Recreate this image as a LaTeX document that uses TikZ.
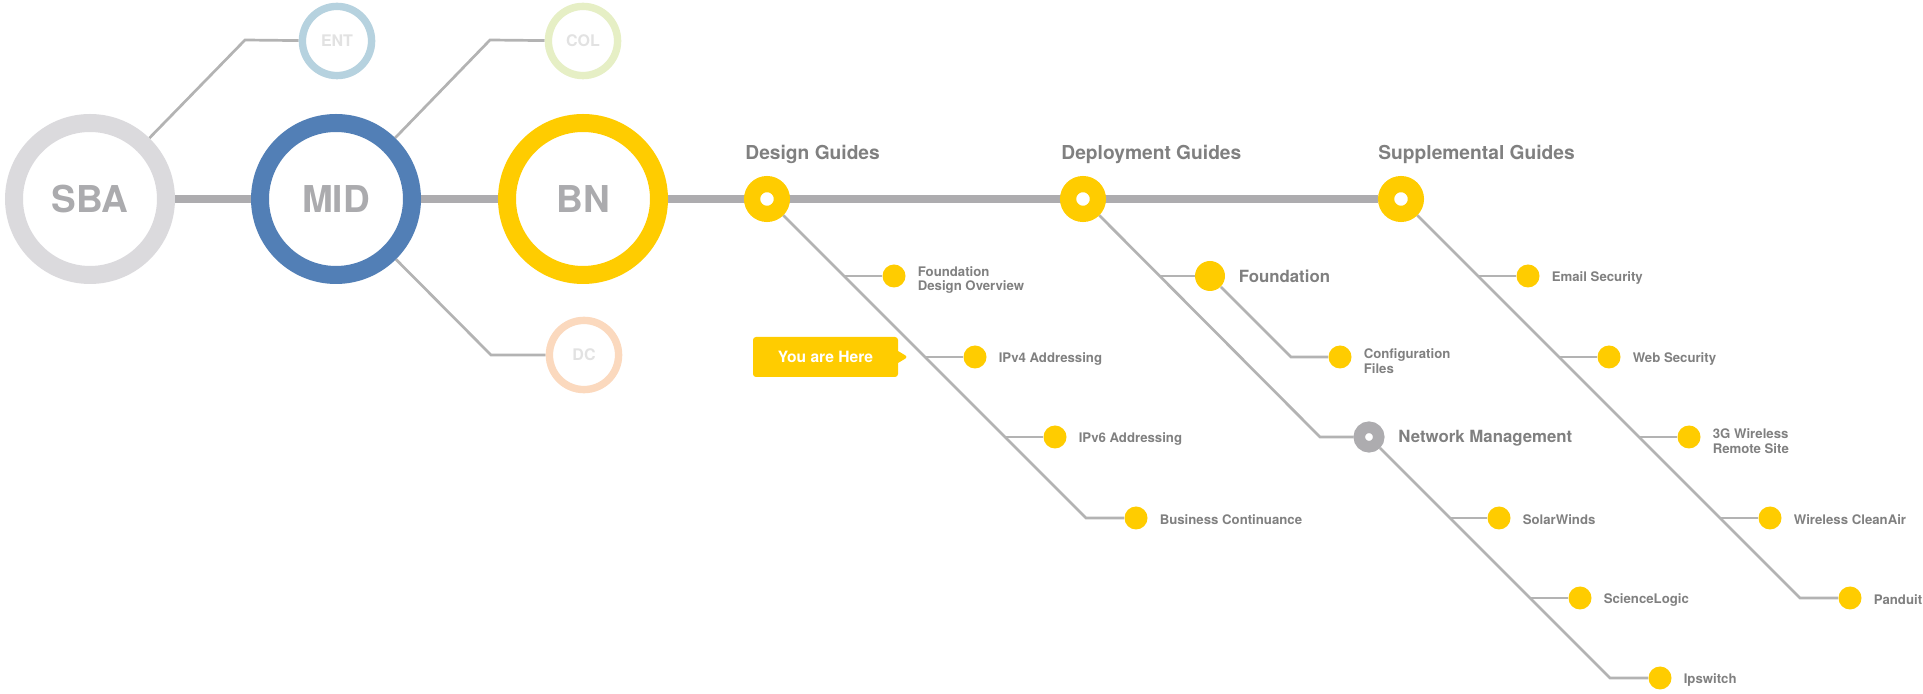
\documentclass[tikz,border=0pt]{standalone}
\usepackage{fontspec}
\setmainfont{TeX Gyre Heros}
\usepackage{tikz}
\usetikzlibrary{positioning,backgrounds,shapes.callouts}

\definecolor{gold}{HTML}{FFCC00}
\definecolor{railgray}{HTML}{ADACAF}
\definecolor{wiregray}{HTML}{B3B3B3}
\definecolor{bigtxt}{HTML}{ABABAE}
\definecolor{labtxt}{HTML}{808080}
\definecolor{paletxt}{HTML}{E2E2E2}
\definecolor{sbagray}{HTML}{DBDADD}
\definecolor{midblue}{HTML}{527FB6}
\definecolor{entblue}{HTML}{B6D2DF}
\definecolor{colgreen}{HTML}{E6EFC5}
\definecolor{dcpeach}{HTML}{FBD9BE}

\tikzset{
  ring/.style={circle, draw=#1, line width=9pt, fill=white, minimum size=76pt, inner sep=0pt,
    text=bigtxt, font=\bfseries\fontsize{18.5}{20}\selectfont},
  minor/.style={circle, draw=#1, line width=3.7pt, fill=white, minimum size=34.6pt, inner sep=0pt,
    text=paletxt, font=\bfseries\fontsize{8}{9}\selectfont},
  hub/.style={circle, draw=gold, line width=8.1pt, fill=white, minimum size=14.9pt, inner sep=0pt},
  subhub/.style={circle, draw=railgray, line width=5.75pt, fill=white, minimum size=9.75pt, inner sep=0pt},
  dot/.style={circle, fill=gold, minimum size=11.5pt, inner sep=0pt},
  bigdot/.style={circle, fill=gold, minimum size=15pt, inner sep=0pt},
  head/.style={text=labtxt, inner sep=0pt, anchor=base west, font=\bfseries\fontsize{9.6}{11}\selectfont},
  lbl/.style={text=labtxt, inner sep=0pt, align=left, yshift=-0.8pt, font=\bfseries\fontsize{6.6}{7.4}\selectfont},
  lbltwo/.style={lbl, yshift=-1.2pt},
  sublbl/.style={text=labtxt, inner sep=0pt, font=\bfseries\fontsize{8.4}{10}\selectfont},
  rail/.style={draw=railgray, line width=4pt},
  wire/.style={draw=wiregray, line width=1.35pt},
}

\begin{document}
\begin{tikzpicture}[x=0.5pt,y=-0.5pt]
  \useasboundingbox (0,0) rectangle (1923,694);

  % main line
  \node (SBA) [ring=sbagray] at (90,199) {SBA};
  \node (MID) [ring=midblue] at (336,199) {MID};
  \node (BN)  [ring=gold]    at (583,199) {BN};
  \node (ENT) [minor=entblue]  at (337,41)  {ENT};
  \node (COL) [minor=colgreen] at (583,41)  {COL};
  \node (DC)  [minor=dcpeach]  at (584,355) {DC};

  \node (DG) [hub] at (767,199) {};
  \node (DP) [hub] at (1083,199) {};
  \node (SG) [hub] at (1401,199) {};
  \node (DGt) [head] at (745,160)  {Design Guides};
  \node (DPt) [head] at (1061,160) {Deployment Guides};
  \node (SGt) [head] at (1378,160) {Supplemental Guides};

  % design guides
  \node (FDO)  [dot] at (894,276)  {};
  \node (IPV4) [dot] at (975,357)  {};
  \node (IPV6) [dot] at (1055,437) {};
  \node (BC)   [dot] at (1136,518) {};
  \node (FDOt)  [lbltwo, right=5.75pt of FDO] {Foundation\\Design Overview};
  \node (IPV4t) [lbl, right=5.75pt of IPV4] {IPv4 Addressing};
  \node (IPV6t) [lbl, right=5.75pt of IPV6] {IPv6 Addressing};
  \node (BCt)   [lbl, right=5.75pt of BC]   {Business Continuance};
  \node (YAH) [rectangle callout, fill=gold, rounded corners=1.5pt, minimum width=72.5pt,
    minimum height=20pt, callout absolute pointer={(908,357)}, callout pointer width=6pt,
    text=white, font=\bfseries\fontsize{7.8}{9}\selectfont] at (825.5,357) {You are Here};

  % deployment guides
  \node (FND) [bigdot] at (1210,276) {};
  \node (CF)  [dot]    at (1340,357) {};
  \node (NM)  [subhub] at (1369,437) {};
  \node (SW)  [dot]    at (1499,518) {};
  \node (SL)  [dot]    at (1580,598) {};
  \node (IPS) [dot]    at (1660,678) {};
  \node (FNDt) [sublbl, right=6.5pt of FND] {Foundation};
  \node (CFt)  [lbltwo, right=5.75pt of CF] {Configuration\\Files};
  \node (NMt)  [sublbl, yshift=-0.8pt, right=6.75pt of NM] {Network Management};
  \node (SWt)  [lbl, right=5.75pt of SW]    {SolarWinds};
  \node (SLt)  [lbl, right=5.75pt of SL]    {ScienceLogic};
  \node (IPSt) [lbl, right=5.75pt of IPS]   {Ipswitch};

  % supplemental guides
  \node (ES) [dot] at (1528,276) {};
  \node (WS) [dot] at (1609,357) {};
  \node (G3) [dot] at (1689,437) {};
  \node (WC) [dot] at (1770,518) {};
  \node (PD) [dot] at (1850,598) {};
  \node (ESt) [lbl, right=5.75pt of ES] {Email Security};
  \node (WSt) [lbl, right=5.75pt of WS] {Web Security};
  \node (G3t) [lbltwo, right=5.75pt of G3] {3G Wireless\\Remote Site};
  \node (WCt) [lbl, right=5.75pt of WC] {Wireless CleanAir};
  \node (PDt) [lbl, right=5.75pt of PD] {Panduit};

  \coordinate (sbae) at (245,40);
  \coordinate (cole) at (490,40);
  \coordinate (dce)  at (491,355);
  \coordinate (dg1) at (844,276);
  \coordinate (dg2) at (925,357);
  \coordinate (dg3) at (1005,437);
  \coordinate (dge) at (1086,518);
  \coordinate (dp1) at (1160,276);
  \coordinate (dpe) at (1320,437);
  \coordinate (fe)  at (1291,357);
  \coordinate (nm1) at (1450,518);
  \coordinate (nm2) at (1530,598);
  \coordinate (nme) at (1610,678);
  \coordinate (sg1) at (1478,276);
  \coordinate (sg2) at (1559,357);
  \coordinate (sg3) at (1639,437);
  \coordinate (sg4) at (1720,518);
  \coordinate (sge) at (1800,598);

  \begin{scope}[on background layer]
    \draw[rail] (SBA) -- (SG);
    \draw[wire] (SBA) -- (sbae) -- (ENT);
    \draw[wire] (MID) -- (cole) -- (COL);
    \draw[wire] (MID) -- (dce) -- (DC);
    \draw[wire] (DG) -- (dge) -- (BC);
    \draw[wire] (DP) -- (dpe) -- (NM);
    \draw[wire] (FND) -- (fe) -- (CF);
    \draw[wire] (NM) -- (nme) -- (IPS);
    \draw[wire] (SG) -- (sge) -- (PD);
    \path[wire] (dg1) edge (FDO)
                (dg2) edge (IPV4)
                (dg3) edge (IPV6)
                (dp1) edge (FND)
                (nm1) edge (SW)
                (nm2) edge (SL)
                (sg1) edge (ES)
                (sg2) edge (WS)
                (sg3) edge (G3)
                (sg4) edge (WC);
  \end{scope}
\end{tikzpicture}
\end{document}
